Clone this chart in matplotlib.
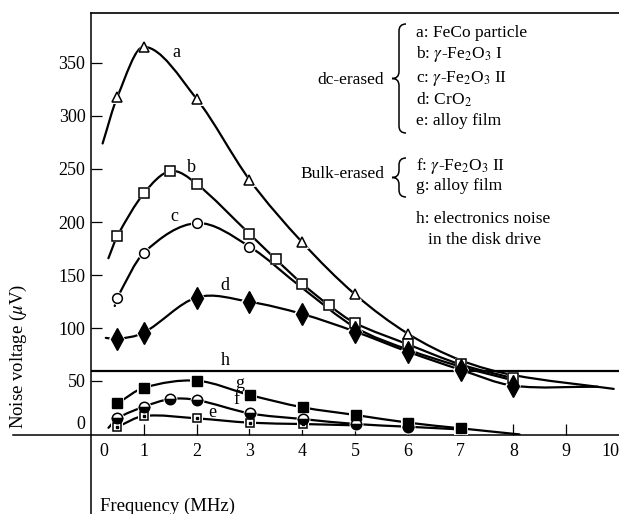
import numpy as np
import matplotlib
matplotlib.use("Agg")
from matplotlib import pyplot as plt
from matplotlib.path import Path
from matplotlib.patches import PathPatch
import matplotlib.transforms as mtransforms

plt.rcParams['font.family'] = ['Liberation Serif', 'DejaVu Serif']
plt.rcParams['mathtext.fontset'] = 'stix'

# upper scale (dc-erased curves a-d, noise level h), in uV
a_x = [0.22, 0.5, 1, 2, 3, 4, 5, 6, 7, 8, 9.9]
a_y = [274, 318, 365, 316, 240, 181, 132, 95, 70, 56, 43]
a_mk = [0.5, 1, 2, 3, 4, 5, 6]
a_mv = [318, 365, 316, 240, 181, 132, 95]

b_x = [0.33, 0.5, 1, 1.5, 2, 3, 3.5, 4, 4.5, 5, 6, 7, 8]
b_y = [166, 187, 227, 248, 236, 189, 165, 142, 122, 105, 85, 66, 53]

c_x = [0.45, 0.5, 1, 2, 3, 4, 5, 6, 7, 8]
c_y = [121, 129, 171, 199, 177, 138, 101, 80, 64, 51]
c_mk = [0.5, 1, 2, 3]
c_mv = [129, 171, 199, 177]

d_x = [0.28, 0.5, 1, 2, 3, 4, 5, 6, 7, 8, 9.6]
d_y = [91, 90, 96, 129, 125, 113.5, 97, 78, 61, 46, 45]

h_level = 60

# lower scale (bulk-erased f, g and alloy film e)
e_x = [0.5, 1, 2, 3, 4, 5]
e_y = [-5.7, 7.3, 4.4, -0.8, -2.4, -4]
f_x = [0.33, 0.5, 1, 1.5, 2, 3, 4, 5, 6, 7]
f_y = [-7, 4.5, 18.5, 27.8, 26.6, 10.5, 3.6, -2.4, -5.7, -9]
g_x = [0.5, 1, 2, 3, 4, 5, 6, 7, 8.1]
g_y = [22.6, 41.5, 50, 32.7, 17.8, 8.5, -0.8, -7.7, -15]

W, H = 619, 514
def fx(px):
    return px / W
def fy(py):
    return 1 - py / H


def smooth(ax, xs, ys, lw=1.6):
    # cubic hermite through the points (in x), drawn as a bezier path
    x = np.asarray(xs, float)
    y = np.asarray(ys, float)
    n = len(x)
    m = np.empty(n)
    m[0] = (y[1] - y[0]) / (x[1] - x[0])
    m[-1] = (y[-1] - y[-2]) / (x[-1] - x[-2])
    m[1:-1] = (y[2:] - y[:-2]) / (x[2:] - x[:-2])
    verts = [(x[0], y[0])]
    codes = [Path.MOVETO]
    for i in range(n - 1):
        dx = (x[i + 1] - x[i]) / 3
        verts += [(x[i] + dx, y[i] + m[i] * dx),
                  (x[i + 1] - dx, y[i + 1] - m[i + 1] * dx),
                  (x[i + 1], y[i + 1])]
        codes += [Path.CURVE4] * 3
    ax.add_patch(PathPatch(Path(verts, codes), fill=False, lw=lw,
                           edgecolor='black', zorder=2, capstyle='round'))


def marks(ax, xs, ys, **kw):
    ms = kw.get('ms', 7)
    ax.plot(xs, ys, ls='none', marker=kw.get('marker'), ms=ms + 2.5,
            color='white', mew=0, zorder=3)
    ax.plot(xs, ys, ls='none', zorder=4, **kw)


fig = plt.figure(figsize=(W / 100, H / 100), dpi=100)
rect = [fx(91), 1 - 435 / H, (W - 91) / W, (435 - 13) / H]
ax = fig.add_axes(rect)
ax2 = fig.add_axes(rect)
ax2.patch.set_visible(False)

xmax = 9.98
ax.set_xlim(0, xmax)
ax2.set_xlim(0, xmax)
ax.set_ylim(-0.4, 396.8)
ax2.set_ylim(-15.7, 495)

for s in ['left', 'bottom', 'right']:
    ax.spines[s].set_visible(False)
ax.spines['top'].set_linewidth(1.2)
for s in ax2.spines.values():
    s.set_visible(False)

# axis lines crossing like the original
ax.plot([0, 0], [(435 - 514) / 422, 1], transform=ax.transAxes,
        clip_on=False, color='black', lw=1.1)
ax.plot([(13 - 91) / 528, 1.01], [0, 0], transform=ax.transAxes,
        clip_on=False, color='black', lw=1.1)

ax.set_xticks(range(0, 11))
ax.tick_params(axis='x', direction='in', length=8, width=0.9, labelsize=13, pad=6)
ax.xaxis.get_major_ticks()[0].tick1line.set_visible(False)
ax.xaxis.get_major_ticks()[-1].tick1line.set_visible(False)
lbls = ax.get_xticklabels()
lbls[0].set_transform(lbls[0].get_transform() +
                      mtransforms.ScaledTranslation(0.13, 0, fig.dpi_scale_trans))
lbls[-1].set_transform(lbls[-1].get_transform() +
                       mtransforms.ScaledTranslation(-0.09, 0, fig.dpi_scale_trans))

ax.set_yticks([100, 150, 200, 250, 300, 350])
ax.tick_params(axis='y', direction='in', length=8, width=0.9, labelsize=13, pad=4)
ax2.set_yticks([0, 50])
ax2.tick_params(axis='y', direction='in', length=8, width=0.9, labelsize=13, pad=4)
ax2.yaxis.get_major_ticks()[0].tick1line.set_visible(False)
ax2.xaxis.set_visible(False)

# upper curves
smooth(ax, a_x, a_y)
marks(ax, a_mk, a_mv, marker='^', ms=7, mfc='white', mec='black', mew=1.1)
smooth(ax, b_x, b_y)
marks(ax, b_x[1:], b_y[1:], marker='s', ms=6.5, mfc='white', mec='black', mew=1.1)
smooth(ax, c_x, c_y)
marks(ax, c_mk, c_mv, marker='o', ms=7, mfc='white', mec='black', mew=1.1)
smooth(ax, d_x, d_y)
marks(ax, d_x[1:-1], d_y[1:-1], marker='d', ms=11, mfc='black', mec='black', mew=1)
ax.axhline(h_level, color='black', lw=1.6, zorder=2)

# lower curves
smooth(ax2, e_x, e_y)
marks(ax2, e_x[:-1], e_y[:-1], marker='s', ms=6, mfc='white', mec='black', mew=1.1)
ax2.plot(e_x[:-1], e_y[:-1], ls='none', marker='s', ms=1.8, color='black', zorder=5)
smooth(ax2, f_x, f_y)
marks(ax2, f_x[1:-1], f_y[1:-1], marker='o', ms=7.5, mfc='black', mfcalt='white',
      fillstyle='bottom', mec='black', mew=1.1)
smooth(ax2, g_x, g_y)
marks(ax2, g_x[:-1], g_y[:-1], marker='s', ms=7, mfc='black', mec='black', mew=1)

# curve letters
fs = 13
for t, x, y in [('a', 1.61, 360), ('b', 1.91, 251), ('c', 1.57, 205),
                ('d', 2.53, 140), ('h', 2.55, 70)]:
    ax.text(x, y, t, fontsize=fs, ha='center', va='center')
for t, x, y in [('g', 2.82, 47), ('f', 2.75, 27), ('e', 2.30, 11)]:
    ax2.text(x, y, t, fontsize=fs, ha='center', va='center')

# key on the right
kfs = 12.5
key_dc = ['a: FeCo particle', r'b: $\gamma$-Fe$_2$O$_3$ I',
          r'c: $\gamma$-Fe$_2$O$_3$ II', r'd: CrO$_2$', 'e: alloy film']
key_bulk = [r'f: $\gamma$-Fe$_2$O$_3$ II', 'g: alloy film']
dc_rows = [33, 54, 79, 100, 121]
bulk_rows = [166, 186]
for t, py in zip(key_dc, dc_rows):
    fig.text(fx(416), fy(py), t, fontsize=kfs, va='center')
for t, py in zip(key_bulk, bulk_rows):
    fig.text(fx(416), fy(py), t, fontsize=kfs, va='center')
fig.text(fx(384), fy(80), 'dc-erased', fontsize=kfs, va='center', ha='right')
fig.text(fx(384), fy(174), 'Bulk-erased', fontsize=kfs, va='center', ha='right')
fig.text(fx(416), fy(219), 'h: electronics noise', fontsize=kfs, va='center')
fig.text(fx(428), fy(240), 'in the disk drive', fontsize=kfs, va='center')


def brace(x0, x1, top, bot):
    mid = (top + bot) / 2
    r = 7
    xm = (x0 + x1) / 2
    P = [(x1, top), (xm, top), (xm, top + r),
         (xm, mid - r), (xm, mid), (x0, mid),
         (xm, mid), (xm, mid + r),
         (xm, bot - r), (xm, bot), (x1, bot)]
    C = [Path.MOVETO, Path.CURVE3, Path.CURVE3,
         Path.LINETO, Path.CURVE3, Path.CURVE3,
         Path.CURVE3, Path.CURVE3,
         Path.LINETO, Path.CURVE3, Path.CURVE3]
    P = [(fx(x), fy(y)) for x, y in P]
    fig.add_artist(PathPatch(Path(P, C), fill=False, lw=1.1,
                             edgecolor='black', transform=fig.transFigure))

brace(392, 406, 24, 133)
brace(392, 406, 158, 197)

fig.text(fx(100), fy(506), 'Frequency (MHz)', fontsize=13.5, va='center')
fig.text(fx(18), fy(356), r'Noise voltage ($\mu$V)', fontsize=13.5,
         va='center', ha='center', rotation=90)

fig.savefig('out.png', dpi=100)
